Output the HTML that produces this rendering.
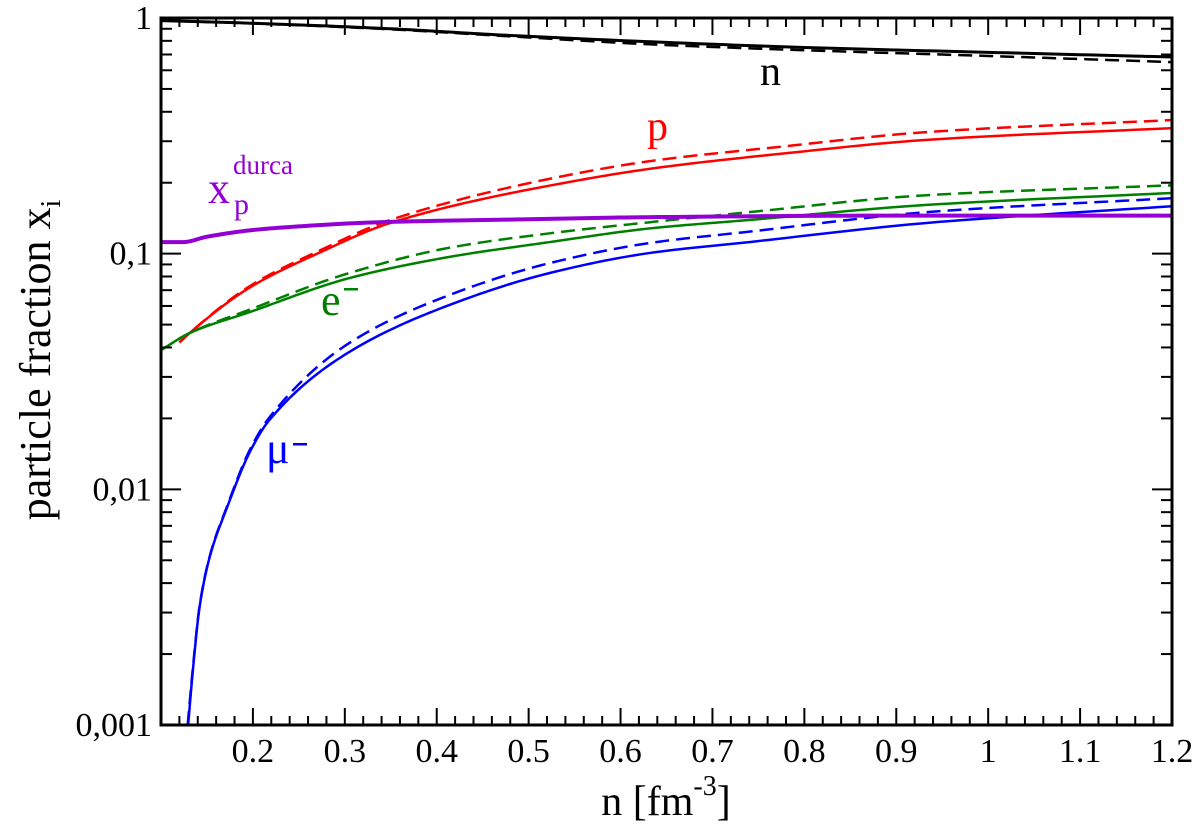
<!DOCTYPE html>
<html><head><meta charset="utf-8"><style>
html,body{margin:0;padding:0;background:#fff;}
svg{display:block;}
svg text{font-family:"Liberation Serif","Times New Roman",Times,"DejaVu Serif",serif !important;}
</style></head><body>
<svg id="chart" width="1200" height="835" viewBox="0 0 1200 835" xmlns="http://www.w3.org/2000/svg">
<g id="series"></g>
<g id="axes"></g>
<text x="760" y="85" font-size="42" fill="#000">n</text>
<text x="647" y="140" font-size="42" fill="#ff0000">p</text>
<g fill="#9400d3">
<text x="208" y="203" font-size="44">x</text>
<text x="234" y="214" font-size="30">p</text>
<text x="233" y="174" font-size="27">durca</text>
</g>
<g fill="#008000">
<text x="321" y="315" font-size="44">e</text>
<rect x="344" y="288" width="14" height="2.5" fill="#008000"/>
</g>
<g fill="#0000ff">
<text x="266" y="463" font-size="44">μ</text>
<rect x="293" y="443" width="14" height="2.5" fill="#0000ff"/>
</g>
<text x="666" y="815" font-size="42" text-anchor="middle">n [fm<tspan font-size="28" dy="-20">-3</tspan><tspan dy="20">]</tspan></text>
<text transform="translate(50,360) rotate(-90)" font-size="44" text-anchor="middle">particle fraction  x<tspan font-size="28" dy="10">i</tspan></text>
</svg>
<script>
const xTickLabels = ["0.2","0.3","0.4","0.5","0.6","0.7","0.8","0.9","1","1.1","1.2"];
const xTickValues = [0.2,0.3,0.4,0.5,0.6,0.7,0.8,0.9,1.0,1.1,1.2];
const yTickLabels = ["1","0,1","0,01","0,001"];
const yTickValues = [1,0.1,0.01,0.001];

const nSolidX = [0.1,0.2,0.35,0.47,0.642,0.8,1.0,1.2];
const nSolidY = [0.975,0.95,0.9,0.847,0.79,0.75,0.715,0.683];
const nDashX = [0.1,0.2,0.35,0.47,0.642,0.8,1.0,1.2];
const nDashY = [0.975,0.948,0.895,0.84,0.77,0.73,0.69,0.65];
const pSolidX = [0.12,0.131,0.197,0.27,0.352,0.555,0.642,0.773,0.933,1.2];
const pSolidY = [0.042,0.046,0.072,0.1,0.136,0.205,0.232,0.265,0.304,0.341];
const pDashX = [0.12,0.131,0.197,0.27,0.352,0.555,0.642,0.773,0.933,1.2];
const pDashY = [0.042,0.046,0.073,0.102,0.14,0.22,0.25,0.284,0.328,0.369];
const eSolidX = [0.1,0.131,0.197,0.305,0.414,0.523,0.632,0.74,0.933,1.2];
const eSolidY = [0.039,0.046,0.0566,0.0788,0.0969,0.112,0.128,0.139,0.161,0.181];
const eDashX = [0.1,0.131,0.197,0.305,0.414,0.523,0.632,0.74,0.933,1.2];
const eDashY = [0.039,0.046,0.058,0.0828,0.106,0.122,0.136,0.15,0.177,0.195];
const muSolidX = [0.1295,0.135,0.142,0.153,0.172,0.197,0.218,0.305,0.414,0.523,0.632,0.74,0.933,1.2];
const muSolidY = [0.001,0.00176,0.00317,0.00516,0.0084,0.0145,0.0197,0.0383,0.0606,0.0828,0.1007,0.112,0.135,0.159];
const muDashX = [0.129,0.135,0.142,0.153,0.172,0.197,0.218,0.305,0.414,0.523,0.632,0.74,0.933,1.2];
const muDashY = [0.001,0.0018,0.0032,0.0052,0.0085,0.0148,0.0202,0.0418,0.0668,0.0912,0.111,0.124,0.15,0.172];
const durcaX = [0.1,0.124,0.15,0.2,0.243,0.338,0.5,0.642,0.9,1.2];
const durcaY = [0.112,0.112,0.118,0.126,0.130,0.136,0.140,0.143,0.145,0.145];

const L=161, R=1172, T=18, B=725, XMIN=0.1, XMAX=1.2;
function sx(v){return L+(v-XMIN)/(XMAX-XMIN)*(R-L);}
function sy(v){return T+(0-Math.log10(v))/3*(B-T);}
const NS="http://www.w3.org/2000/svg";
const series=document.getElementById('series'), axes=document.getElementById('axes');
function mk(tag,attrs,parent){const e=document.createElementNS(NS,tag);for(const k in attrs)e.setAttribute(k,attrs[k]);parent.appendChild(e);return e;}
function pathD(xs,ysRaw){
  const ys=ysRaw.map(v=>Math.log10(v)); const n=xs.length;
  const d=[],m=new Array(n);
  for(let i=0;i<n-1;i++)d.push((ys[i+1]-ys[i])/(xs[i+1]-xs[i]));
  m[0]=d[0]; m[n-1]=d[n-2];
  for(let i=1;i<n-1;i++){ if(d[i-1]*d[i]<=0)m[i]=0; else { const h0=xs[i]-xs[i-1],h1=xs[i+1]-xs[i]; const w1=2*h1+h0,w2=h1+2*h0; m[i]=(w1+w2)/(w1/d[i-1]+w2/d[i]); } }
  let s="";
  for(let i=0;i<n-1;i++){
    const h=xs[i+1]-xs[i];
    for(let k=0;k<=20;k++){
      if(i>0&&k===0)continue;
      const t=k/20,t2=t*t,t3=t2*t;
      const yv=(2*t3-3*t2+1)*ys[i]+(t3-2*t2+t)*h*m[i]+(-2*t3+3*t2)*ys[i+1]+(t3-t2)*h*m[i+1];
      const X=sx(xs[i]+t*h), Y=sy(Math.pow(10,yv));
      s+=(s?" L":"M")+X.toFixed(2)+","+Y.toFixed(2);
    }
  }
  return s;
}
function line(name,xs,ys,color,w,dash){
  const e=mk('path',{d:pathD(xs,ys),fill:'none',stroke:color,'stroke-width':w,'stroke-linejoin':'round'},series);
  if(dash)e.setAttribute('stroke-dasharray',dash);
  
  
}
const clip=mk('clipPath',{id:'pc'},document.getElementById('chart'));
mk('rect',{x:L,y:T,width:R-L,height:B-T},clip);
series.setAttribute('clip-path','url(#pc)');
line('n-dashed',nDashX,nDashY,'#000',2.5,'14,7');
line('n-solid',nSolidX,nSolidY,'#000',3,null);
line('p-dashed',pDashX,pDashY,'#ff0000',2.5,'14,7');
line('p-solid',pSolidX,pSolidY,'#ff0000',2.5,null);
line('e-dashed',eDashX,eDashY,'#008000',2.5,'14,7');
line('e-solid',eSolidX,eSolidY,'#008000',2.5,null);
line('mu-dashed',muDashX,muDashY,'#0000ff',2.5,'14,7');
line('mu-solid',muSolidX,muSolidY,'#0000ff',2.5,null);
line('xp-durca',durcaX,durcaY,'#9400d3',4,null);

const fr=mk('rect',{x:L,y:T,width:R-L,height:B-T,fill:'none',stroke:'#000','stroke-width':3},axes);


for(let i=0;i<=55;i++){
  const v=XMIN+i*0.02; if(v>XMAX+1e-9)break;
  const major=Math.abs(v*10-Math.round(v*10))<1e-6;
  const len=major?17:9, X=sx(v);
  mk('line',{x1:X,y1:B,x2:X,y2:B-len,stroke:'#000','stroke-width':2},axes);
  mk('line',{x1:X,y1:T,x2:X,y2:T+len,stroke:'#000','stroke-width':2},axes);
}
xTickValues.forEach((v,i)=>{
  const t=mk('text',{x:sx(v),y:762,'font-size':34,'text-anchor':'middle'},axes);
  t.textContent=xTickLabels[i];
  
  
});
for(let dec=0;dec<3;dec++){
  for(let m=1;m<=9;m++){
    const v=m*Math.pow(10,-dec-1); const Y=sy(v); const len=m===1?20:11;
    mk('line',{x1:L,y1:Y,x2:L+len,y2:Y,stroke:'#000','stroke-width':2},axes);
    mk('line',{x1:R,y1:Y,x2:R-len,y2:Y,stroke:'#000','stroke-width':2},axes);
  }
}
yTickValues.forEach((v,i)=>{
  const t=mk('text',{x:152,y:sy(v)+11,'font-size':34,'text-anchor':'end'},axes);
  t.textContent=yTickLabels[i];
  
  
});
</script>
</body></html>
